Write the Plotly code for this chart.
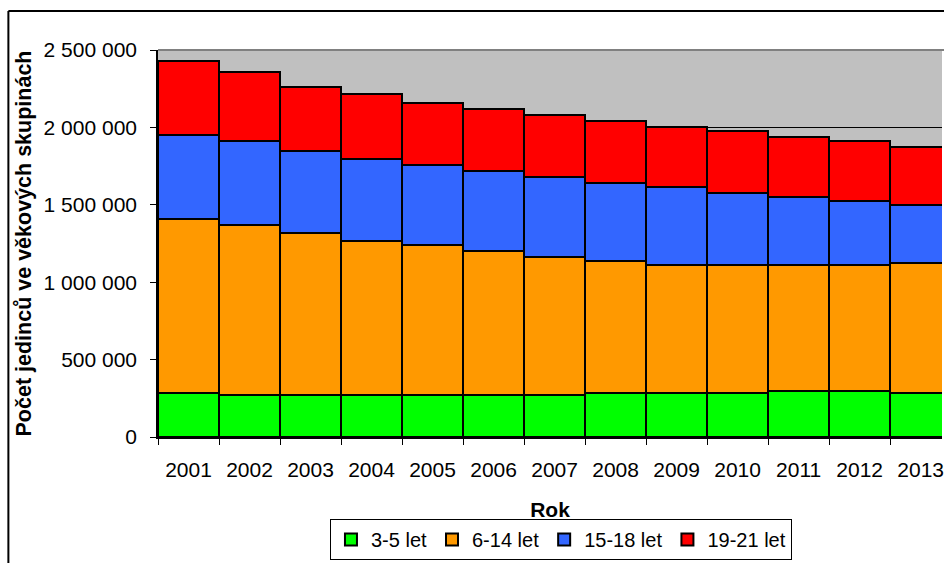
import plotly.graph_objects as go

years = ["2001", "2002", "2003", "2004", "2005", "2006", "2007",
         "2008", "2009", "2010", "2011", "2012", "2013"]
age_3_5 = [283000, 270000, 270000, 270000, 270000, 270000, 270000,
           284000, 284000, 284000, 297000, 297000, 286000]
age_6_14 = [1125000, 1102000, 1050000, 998000, 970000, 934000, 893000,
            853000, 827000, 827000, 814000, 814000, 840000]
age_15_18 = [543000, 542000, 528000, 530000, 517000, 514000, 517000,
             502000, 504000, 467000, 439000, 414000, 373000]
age_19_21 = [478000, 442000, 413000, 416000, 403000, 401000, 400000,
             404000, 388000, 399000, 390000, 387000, 376000]

series = [
    ("3-5 let", age_3_5, "#00FF00"),
    ("6-14 let", age_6_14, "#FF9900"),
    ("15-18 let", age_15_18, "#3366FF"),
    ("19-21 let", age_19_21, "#FF0000"),
]

FONT = "Arial, Liberation Sans, sans-serif"

fig = go.Figure()
for name, vals, col in series:
    fig.add_trace(go.Bar(
        x=years, y=vals, name=name,
        marker=dict(color=col, line=dict(color="black", width=2)),
    ))

W, H = 944, 563
L, T = 158, 50
PB = 437          # plot bottom
B = H - PB
R = 0
pw = W - L - R
ph = PB - T

def px_x(x):
    return (x - L) / pw

def px_y(y):
    return (PB - y) / ph

fig.update_layout(
    width=W, height=H,
    margin=dict(l=L, r=R, t=T, b=B),
    barmode="stack", bargap=0,
    paper_bgcolor="white", plot_bgcolor="#C0C0C0",
    separators=", ",
    font=dict(family=FONT, size=21, color="black"),
    showlegend=True,
    legend=dict(
        orientation="h", x=px_x(562), xanchor="center",
        y=px_y(519), yanchor="top",
        bgcolor="white", bordercolor="black", borderwidth=1,
        font=dict(size=20, family=FONT, color="black"),
        traceorder="normal", itemwidth=30,
    ),
    xaxis=dict(
        range=[-0.5, 12.35], type="category",
        tickson="boundaries", ticks="outside", ticklen=6, tickcolor="black",
        showline=True, linecolor="black", linewidth=1.5,
        showgrid=False, ticklabelstandoff=13,
        title=dict(text="<b>Rok</b>", standoff=22,
                   font=dict(size=21, family=FONT, color="black")),
        tickfont=dict(size=21, family=FONT, color="black"),
    ),
    yaxis=dict(
        range=[0, 2500000], dtick=500000, tickformat=",d",
        ticks="outside", ticklen=6, tickcolor="black",
        showline=True, linecolor="black", linewidth=1.5,
        showgrid=True, gridcolor="black", gridwidth=1, zeroline=False,
        ticklabelstandoff=9,
        title=dict(text="<b>Počet jedinců ve věkových skupinách</b>", standoff=6,
                   font=dict(size=21.5, family=FONT, color="black")),
        tickfont=dict(size=21, family=FONT, color="black"),
    ),
    shapes=[
        dict(type="line", xref="paper", yref="paper", x0=0, x1=1.02, y0=1, y1=1,
             line=dict(color="#808080", width=2)),
        dict(type="line", xref="paper", yref="paper",
             x0=px_x(8), x1=1.05, y0=px_y(11), y1=px_y(11),
             line=dict(color="black", width=2)),
        dict(type="line", xref="paper", yref="paper",
             x0=px_x(8), x1=px_x(8), y0=px_y(11), y1=px_y(575),
             line=dict(color="black", width=2)),
    ],
)

fig.write_html(
    "out.html",
    config={"displayModeBar": False},
    post_script="document.body.style.margin='0';document.body.style.overflow='hidden';",
)
